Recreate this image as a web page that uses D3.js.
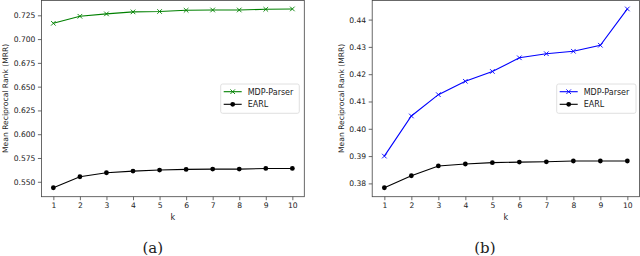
<!DOCTYPE html>
<html><head><meta charset="utf-8">
<script src="https://cdn.jsdelivr.net/npm/d3@7"></script>
<style>
body{margin:0;background:#fff;}
svg{display:block;}
text{font-family:"DejaVu Sans",sans-serif;fill:#222;}
</style></head>
<body>
<svg id="c" width="640" height="256"></svg>
<script>
const ks = [1,2,3,4,5,6,7,8,9,10];
const mdpA  = [0.7166,0.7240,0.7265,0.7286,0.7290,0.7303,0.7306,0.7306,0.7313,0.7317];
const earlA = [0.5437,0.5553,0.5595,0.5612,0.5623,0.5630,0.5633,0.5633,0.5640,0.5640];
const mdpB  = [0.3900,0.4047,0.4125,0.4174,0.4210,0.4260,0.4275,0.4284,0.4306,0.4439];
const earlB = [0.3784,0.3828,0.3864,0.3871,0.3876,0.3878,0.3879,0.3882,0.3882,0.3882];
const ticksA = [0.550,0.575,0.600,0.625,0.650,0.675,0.700,0.725];
const ticksB = [0.38,0.39,0.40,0.41,0.42,0.43,0.44];
const seriesNames = ["MDP-Parser","EARL"];
const yLabel = "Mean Reciprocal Rank (MRR)";
const xLabel = "k";

const svg = d3.select("#c");

function panel(o){
  const g = svg.append("g");
  const all = o.mdp.concat(o.earl);
  const [lo,hi] = d3.extent(all); const pad=(hi-lo)*0.05;
  const x = d3.scaleLinear().domain([0.55,10.45]).range([o.left,o.right]);
  const y = d3.scaleLinear().domain([lo-pad,hi+pad]).range([o.bottom,o.top]);

  g.append("rect").attr("x",o.left).attr("y",o.top+0.5).attr("width",o.right-o.left).attr("height",o.bottom-o.top-0.5)
    .attr("fill","none").attr("stroke","#444").attr("stroke-width",0.8);

  const xa = g.append("g").attr("transform",`translate(0,${o.bottom})`)
    .call(d3.axisBottom(x).tickValues(ks).tickFormat(d3.format("d")).tickSize(3.5).tickPadding(2.5));
  const ya = g.append("g").attr("transform",`translate(${o.left},0)`)
    .call(d3.axisLeft(y).tickValues(o.ticks).tickFormat(d3.format(o.fmt)).tickSize(3.5).tickPadding(2.5));
  [xa,ya].forEach(a=>{
    a.select(".domain").remove();
    a.selectAll("line").attr("stroke","#444").attr("stroke-width",0.8);
    a.selectAll("text").style("font-size","7.6px").attr("fill","#222").style("font-family","DejaVu Sans");
  });

  g.append("text").attr("x",(o.left+o.right)/2).attr("y",o.bottom+23).attr("text-anchor","middle")
    .style("font-size","8px").text(xLabel);
  g.append("text").attr("transform",`translate(${o.ylx},${(o.top+o.bottom)/2}) rotate(-90)`)
    .attr("text-anchor","middle").style("font-size","7.6px").text(yLabel);

  const line = d3.line().x((d,i)=>x(ks[i])).y(d=>y(d));
  g.append("path").datum(o.mdp).attr("d",line).attr("fill","none").attr("stroke",o.color).attr("stroke-width",1.1);
  const s=2.3;
  g.selectAll(".xm").data(o.mdp).enter().append("path")
    .attr("d",(d,i)=>`M${x(ks[i])-s},${y(d)-s}L${x(ks[i])+s},${y(d)+s}M${x(ks[i])-s},${y(d)+s}L${x(ks[i])+s},${y(d)-s}`)
    .attr("stroke",o.color).attr("stroke-width",0.9).attr("fill","none");
  g.append("path").datum(o.earl).attr("d",line).attr("fill","none").attr("stroke","#000").attr("stroke-width",1.1);
  g.selectAll(".dm").data(o.earl).enter().append("circle")
    .attr("cx",(d,i)=>x(ks[i])).attr("cy",d=>y(d)).attr("r",2.4).attr("fill","#000");

  const L = o.legend;
  g.append("rect").attr("x",L.x).attr("y",L.y).attr("width",L.w).attr("height",L.h).attr("rx",2)
    .attr("fill","#fff").attr("fill-opacity",0.85).attr("stroke","#d8d8d8").attr("stroke-width",0.8);
  const rows=[{c:o.color,m:"x"},{c:"#000",m:"o"}];
  rows.forEach((r,i)=>{
    const yy=L.y+7.7+i*12.6, x0=L.x+3, x1=L.x+21, xm=(x0+x1)/2;
    g.append("line").attr("x1",x0).attr("x2",x1).attr("y1",yy).attr("y2",yy).attr("stroke",r.c).attr("stroke-width",1.1);
    if(r.m==="x") g.append("path").attr("d",`M${xm-s},${yy-s}L${xm+s},${yy+s}M${xm-s},${yy+s}L${xm+s},${yy-s}`).attr("stroke",r.c).attr("stroke-width",0.9);
    else g.append("circle").attr("cx",xm).attr("cy",yy).attr("r",2.4).attr("fill",r.c);
    g.append("text").attr("x",L.x+27).attr("y",yy+2.9).style("font-size","8px").text(seriesNames[i]);
  });

  svg.append("text").attr("x",(o.left+o.right)/2 + o.capdx).attr("y",253).attr("text-anchor","middle")
    .style("font-family","'DejaVu Serif','Liberation Serif',serif").style("font-size","15px").attr("fill","#000").text(o.caption);
}

panel({left:41.4,right:304.3,top:0,bottom:196.7,mdp:mdpA,earl:earlA,ticks:ticksA,fmt:".3f",color:"#008000",
  ylx:8,legend:{x:220.7,y:84,w:78.6,h:29.3},caption:"(a)",capdx:-20});
panel({left:372.2,right:639.5,top:0,bottom:196.7,mdp:mdpB,earl:earlB,ticks:ticksB,fmt:".2f",color:"#0000ff",
  ylx:344,legend:{x:556.7,y:84,w:79.3,h:29.3},caption:"(b)",capdx:-21});
</script>
</body></html>
